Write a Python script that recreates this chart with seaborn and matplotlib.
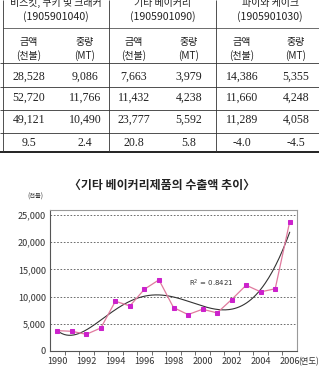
import numpy as np
import pandas as pd
import matplotlib
matplotlib.use("Agg")
import matplotlib.pyplot as plt
import seaborn as sns

# table (top part, cropped)
groups = ["비스킷, 쿠키 및 크래커", "기타 베이커리", "파이와 케이크"]
codes = ["(1905901040)", "(1905901090)", "(1905901030)"]
sub_top = ["금액", "중량"]
sub_bot = ["(천불)", "(MT)"]
rows = [
    ["28,528", "9,086", "7,663", "3,979", "14,386", "5,355"],
    ["52,720", "11,766", "11,432", "4,238", "11,660", "4,248"],
    ["49,121", "10,490", "23,777", "5,592", "11,289", "4,058"],
    ["9.5", "2.4", "20.8", "5.8", "-4.0", "-4.5"],
]

# chart data
years = list(range(1990, 2007))
exports = [3740, 3620, 3070, 4230, 9140, 8280, 11350, 13070, 7980,
           6690, 7670, 7000, 9450, 12090, 10860, 11432, 23777]
title = "〈기타 베이커리제품의 수출액 추이〉"
unit = "(천불)"
r2_text = "R$^2$ = 0.8421"

sns.set_theme(style="white")
kr = ["Noto Sans CJK KR", "DejaVu Sans"]
plt.rcParams["font.family"] = kr

W, H = 319, 374
fig = plt.figure(figsize=(W / 100, H / 100), dpi=100)

# table drawn in pixel coords
tab = fig.add_axes([0, 0, 1, 1])
tab.set_xlim(0, W)
tab.set_ylim(H, 0)
tab.axis("off")

col_x = [29, 85, 134, 189, 242, 296]
grp_x = [56, 163, 270]
row_y = [77, 98, 120, 143]
for gx, g, c in zip(grp_x, groups, codes):
    tab.text(gx, 3, g, ha="center", va="center", fontsize=7.2, color="#222222")
    tab.text(gx, 17, c, ha="center", va="center", fontsize=7.6, color="#222222")
for i, cx in enumerate(col_x):
    tab.text(cx, 42, sub_top[i % 2], ha="center", va="center", fontsize=7.2, color="#222222")
    tab.text(cx, 56, sub_bot[i % 2], ha="center", va="center", fontsize=7.2, color="#222222")
for ry, r in zip(row_y, rows):
    for cx, v in zip(col_x, r):
        tab.text(cx, ry, v, ha="center", va="center", fontsize=8.6,
                 family="Liberation Serif", color="#222222")

tab.hlines(28, 3, W, color="#555555", lw=0.6)
tab.hlines([63, 87, 110, 133], 0, W, color="#333333", lw=0.6)
tab.hlines(152, 0, W, color="#111111", lw=1.3)
tab.vlines([3, 109, 216], 0, 152, color="#333333", lw=0.6)

tab.text(162, 185, title, ha="center", va="center", fontsize=8.6,
         fontweight="bold", color="#222222")
tab.text(35, 197, unit, ha="center", va="center", fontsize=4.5, color="#333333")

# line chart
ax = fig.add_axes([50 / W, 1 - 351 / H, 247 / W, 141 / H])
df = pd.DataFrame({"year": years, "value": exports})

# polynomial trend line (5th order)
xs = np.array(years) - 1990
coef = np.polyfit(xs, exports, 5)
xf = np.linspace(0, 16, 200)
trend = pd.DataFrame({"year": xf + 1990, "value": np.polyval(coef, xf)})
sns.lineplot(data=trend, x="year", y="value", ax=ax, color="#333333", lw=0.8)

sns.lineplot(data=df, x="year", y="value", ax=ax, color="#E07A9E", lw=0.9,
             marker="s", markersize=2.5, markerfacecolor="#CC22CC",
             markeredgecolor="#CC22CC")

ax.set_xlim(1989.5, 2006.5)
ax.set_ylim(0, 25900)
ax.set_xlabel("")
ax.set_ylabel("")
ax.set_yticks([0, 5000, 10000, 15000, 20000, 25000])
ax.set_yticklabels(["0", "5,000", "10,000", "15,000", "20,000", "25,000"])
ax.set_xticks(range(1990, 2007, 2))
ax.set_xticklabels([str(y) for y in range(1990, 2007, 2)])
ax.set_xticks(np.arange(1990.5, 2006, 1), minor=True)
narrow = ["Liberation Sans Narrow", "Noto Sans CJK KR"]
for lab in ax.get_xticklabels() + ax.get_yticklabels():
    lab.set_family(narrow)
    lab.set_fontsize(6.6)
    lab.set_color("#333333")
ax.annotate("(연도)", xy=(2006, 0), xycoords="data", xytext=(6.3, -4.2),
            textcoords="offset points", ha="left", va="top", fontsize=6,
            color="#333333", annotation_clip=False)
ax.tick_params(axis="x", which="major", length=0, pad=4)
ax.tick_params(axis="x", which="minor", direction="out", length=3,
               width=0.6, color="#555555", bottom=True)
ax.tick_params(axis="y", length=0, pad=3)
for y in [5000, 10000, 15000, 20000, 25000]:
    ax.axhline(y, color="#555555", lw=0.6, ls=(0, (2, 2)), zorder=0)
for s in ["left", "bottom"]:
    ax.spines[s].set_color("#555555")
    ax.spines[s].set_linewidth(0.8)
for s in ["top", "right"]:
    ax.spines[s].set_color("#999999")
    ax.spines[s].set_linewidth(0.8)
ax.text(2000.6, 12500, r2_text, ha="center", va="center", fontsize=5,
        family="DejaVu Sans", color="#333333")

fig.savefig("out.png", dpi=100)
